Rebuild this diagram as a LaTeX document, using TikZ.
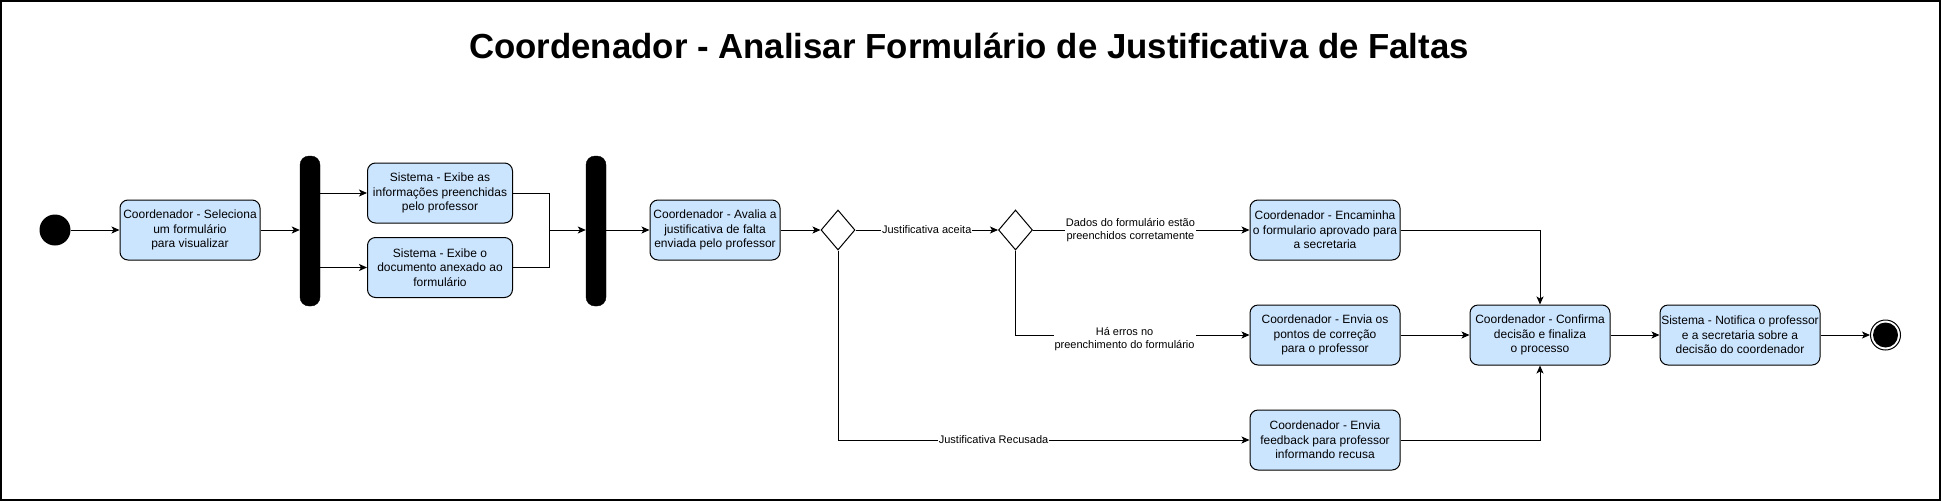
\documentclass[tikz,border=0pt]{standalone}
\usepackage{fontspec}
\setmainfont{Liberation Sans}
\usetikzlibrary{shapes.geometric,arrows.meta}
\definecolor{boxblue}{RGB}{204,229,255}
\begin{document}
\begin{tikzpicture}[x=1pt,y=-1pt,
  act/.style={draw=black, fill=boxblue, rounded corners=8pt, align=center,
    font=\fontsize{12}{14.4}\selectfont, inner sep=0pt, minimum height=60pt, line width=1pt},
  forkbar/.style={fill=black, draw=black, rounded corners=9pt, minimum width=20pt,
    minimum height=150pt, inner sep=0pt},
  dec/.style={diamond, draw=black, fill=white, minimum width=34pt, minimum height=40pt,
    inner sep=0pt, line width=1pt},
  conn/.style={draw=black, line width=1pt},
  flow/.style={conn, -{Stealth[length=8pt,width=7pt,inset=2pt]}},
  lbl/.style={fill=white, inner sep=1pt, align=center, font=\fontsize{11}{13.5}\selectfont}]
\useasboundingbox (0,0) rectangle (1941,501);
\draw[line width=1.5pt] (1,1) rectangle (1940,500);

\node[font=\fontsize{34.8}{40}\selectfont\bfseries] (title) at (969,46)
  {Coordenador - Analisar Formulário de Justificativa de Faltas};

\node[circle, fill=black, minimum size=31pt, inner sep=0pt] (start) at (55,230) {};
\node[act, minimum width=140pt] (b1) at (190,230) {Coordenador - Seleciona\\um formulário\\para visualizar};
\node[forkbar] (bar1) at (310,231) {};
\node[act, minimum width=145pt] (b2) at (440,193) {Sistema - Exibe as\\informações preenchidas\\pelo professor};
\node[act, minimum width=145pt] (b3) at (440,267.5) {Sistema - Exibe o\\documento anexado ao\\formulário};
\node[forkbar] (bar2) at (596,231) {};
\node[act, minimum width=130pt] (b4) at (715,230) {Coordenador - Avalia a\\justificativa de falta\\enviada pelo professor};
\node[dec] (d1) at (838,230) {};
\node[dec] (d2) at (1015.5,230) {};
\node[act, minimum width=150pt] (b5) at (1325,230) {Coordenador - Encaminha\\o formulario aprovado para\\a secretaria};
\node[act, minimum width=150pt] (b6) at (1325,335) {Coordenador - Envia os\\pontos de correção\\para o professor};
\node[act, minimum width=150pt] (b9) at (1325,440) {Coordenador - Envia\\feedback para professor\\informando recusa};
\node[act, minimum width=140pt] (b7) at (1540,335) {Coordenador - Confirma\\decisão e finaliza\\o processo};
\node[act, minimum width=160pt] (b8) at (1740,335) {Sistema - Notifica o professor\\e a secretaria sobre a\\decisão do coordenador};
\node[circle, draw=black, fill=white, line width=1pt, minimum size=30pt, inner sep=0pt] (end) at (1885.5,335) {};
\node[circle, fill=black, minimum size=25pt, inner sep=0pt] (endin) at (end.center) {};

\coordinate (j) at (549,230);

\draw[flow] (start) -- (b1);
\draw[flow] (b1) -- (b1 -| bar1.west);
\draw[flow] (bar1.east |- b2.west) -- (b2.west);
\draw[flow] (bar1.east |- b3.west) -- (b3.west);
\draw[conn] (b2.east) -| (j);
\draw[conn] (b3.east) -| (j);
\draw[flow] (j) -- (j -| bar2.west);
\draw[flow] (bar2.east |- b4.west) -- (b4.west);
\draw[flow] (b4) -- (d1);
\draw[flow] (d1) -- node[lbl] {Justificativa aceita} (d2);
\draw[flow] (d2) -- node[lbl, pos=0.45] {Dados do formulário estão\\preenchidos corretamente} (b5);
\draw[flow] (d2.south) |- node[lbl, pos=0.733, yshift=-4pt] {Há erros no\\preenchimento do formulário} (b6.west);
\draw[flow] (d1.south) |- node[lbl, pos=0.689] {Justificativa Recusada} (b9.west);
\draw[flow] (b5.east) -| (b7.north);
\draw[flow] (b6) -- (b7);
\draw[flow] (b9.east) -| (b7.south);
\draw[flow] (b7) -- (b8);
\draw[flow] (b8) -- (end);
\end{tikzpicture}
\end{document}
